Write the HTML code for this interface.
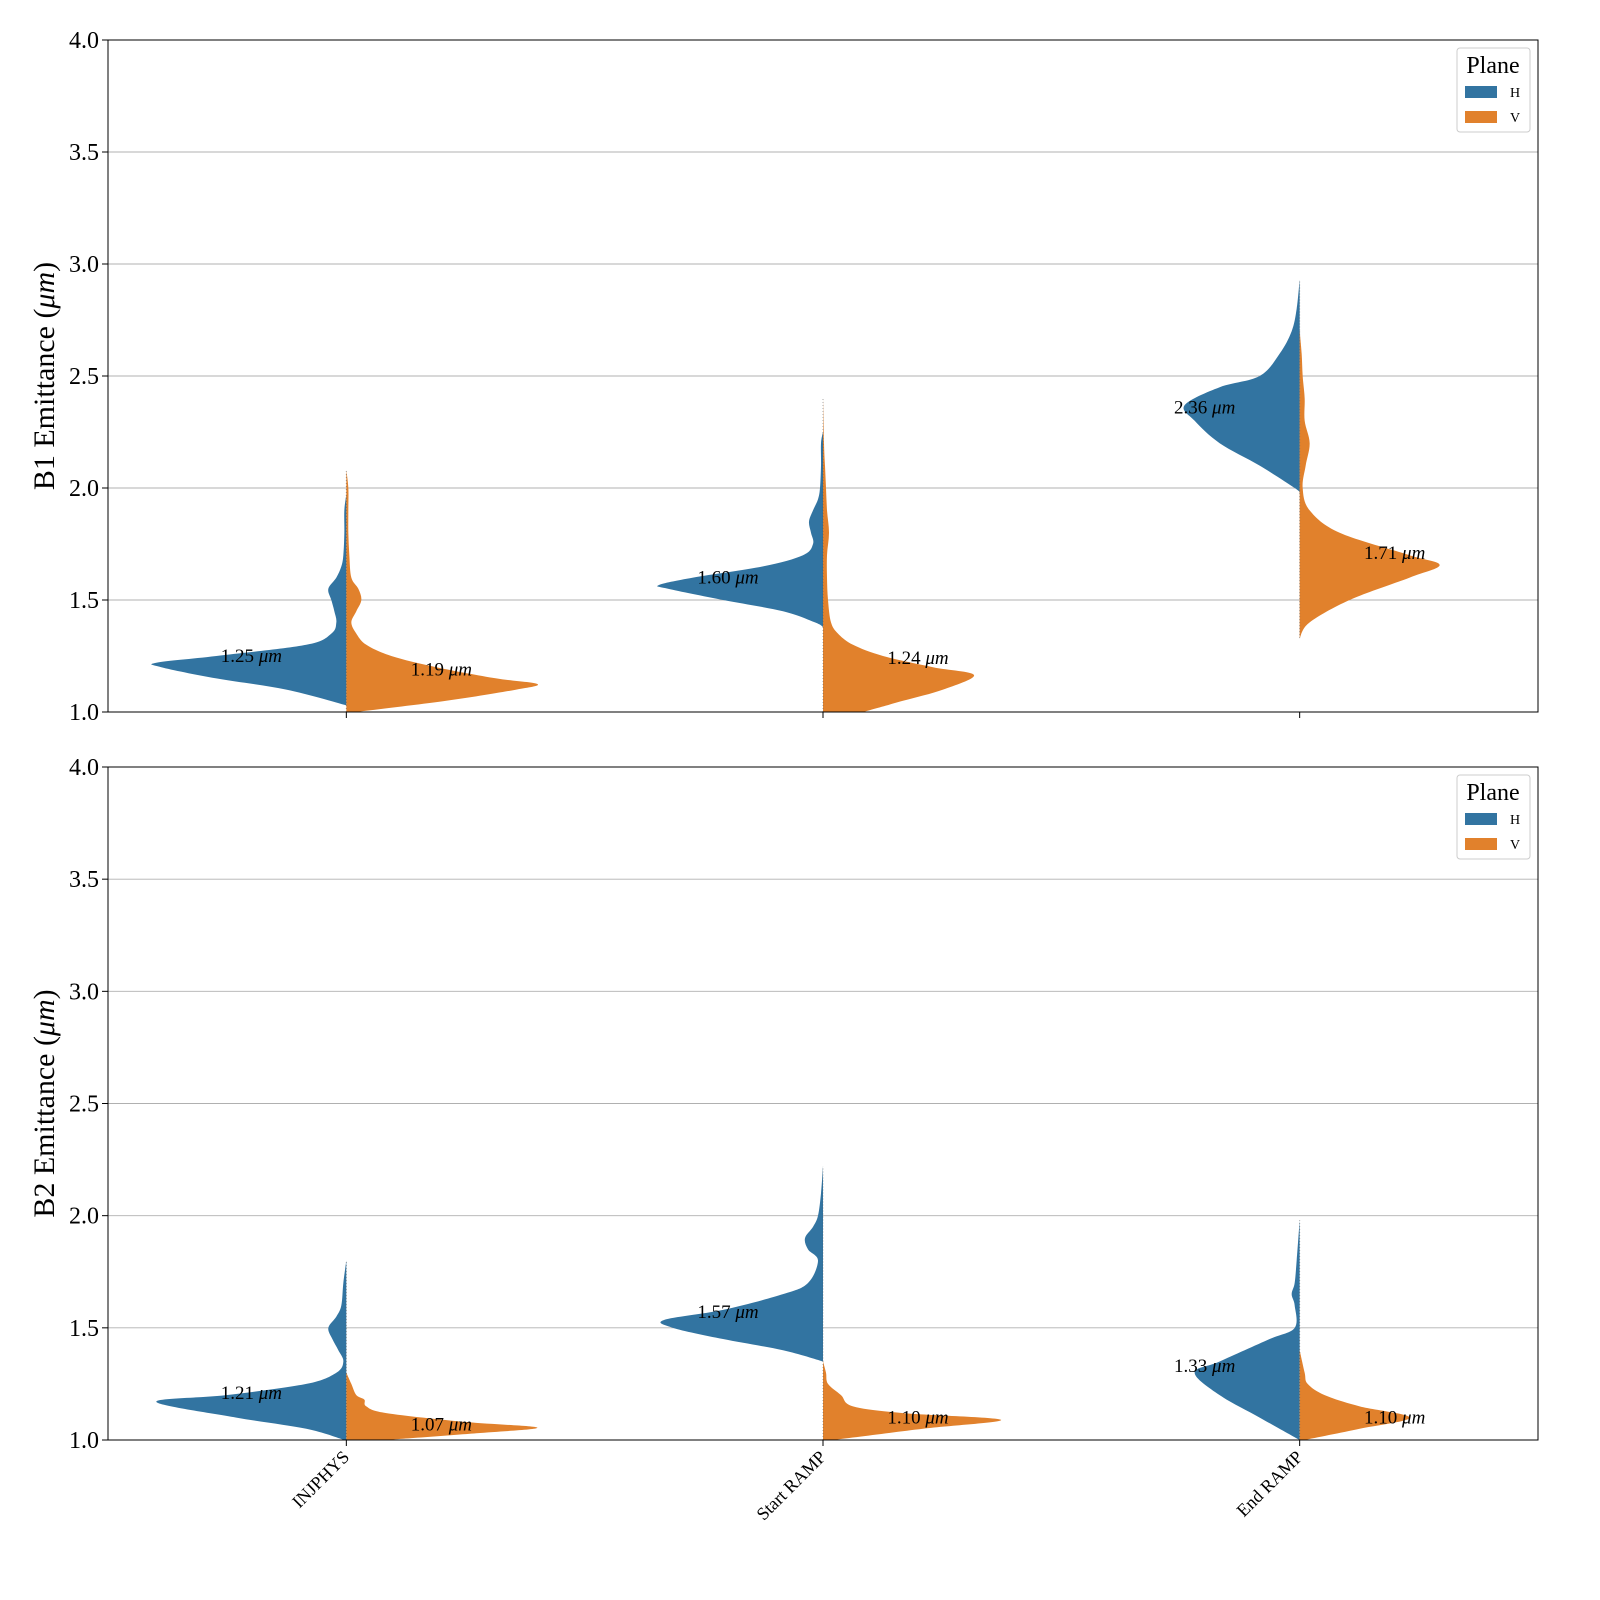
<!DOCTYPE html>
<html><head><meta charset="utf-8"><style>
html,body{margin:0;padding:0;background:#fff;overflow:hidden;width:1600px;height:1600px}
svg{display:block;font-family:"Liberation Serif","DejaVu Serif",serif}
</style></head><body>
<svg id="chart" width="1600" height="1600" viewBox="0 0 1600 1600" xmlns="http://www.w3.org/2000/svg"></svg>
<script>
const categories = ["INJPHYS","Start RAMP","End RAMP"];
const yTicks = [1.0,1.5,2.0,2.5,3.0,3.5,4.0];
const panelLabels = ["B1 Emittance (","B2 Emittance ("];
// medians printed [panel][category][H,V]
const medians = [[[1.25,1.19],[1.60,1.24],[2.36,1.71]],[[1.21,1.07],[1.57,1.10],[1.33,1.10]]];
// density profiles: value grid and density per violin
const b1InjH_y=[1.03,1.1,1.15,1.2,1.22,1.25,1.3,1.35,1.4,1.45,1.5,1.55,1.6,1.65,1.7,1.8,1.9,1.97];
const b1InjH_d=[0,60,130,185,190,130,40,15,10,12,15,18,10,5,3,2,2,0];
const b1InjV_y=[1.0,1.05,1.1,1.125,1.15,1.2,1.25,1.3,1.35,1.4,1.45,1.5,1.55,1.6,1.7,1.8,1.9,2.0,2.08];
const b1InjV_d=[10,100,170,191,150,90,45,20,10,5,10,15,12,5,3,2,2,2,0];
const b1StaH_y=[1.38,1.4,1.45,1.5,1.55,1.567,1.6,1.65,1.7,1.75,1.8,1.85,1.9,1.95,2.0,2.1,2.2,2.25];
const b1StaH_d=[0,8,40,100,155,164,130,60,20,10,12,14,10,5,3,2,2,0];
const b1StaV_y=[1.0,1.05,1.1,1.165,1.2,1.25,1.3,1.35,1.4,1.5,1.6,1.7,1.8,1.9,2.0,2.1,2.2,2.4];
const b1StaV_d=[40,80,120,151,110,60,30,15,8,5,4,4,6,4,3,2,1,0];
const b1EndH_y=[1.98,2.0,2.1,2.2,2.3,2.37,2.45,2.5,2.6,2.7,2.8,2.93];
const b1EndH_d=[0,5,40,80,105,115,80,40,20,8,3,0];
const b1EndV_y=[1.33,1.4,1.5,1.6,1.656,1.7,1.8,1.9,2.0,2.1,2.2,2.3,2.4,2.5,2.6,2.7];
const b1EndV_d=[0,10,50,110,140,110,40,10,3,6,10,5,5,3,2,0];
const b2InjH_y=[1.0,1.05,1.1,1.17,1.2,1.25,1.3,1.35,1.4,1.45,1.5,1.55,1.6,1.7,1.8];
const b2InjH_d=[2,40,110,190,120,40,10,3,8,14,18,10,5,3,0];
const b2InjV_y=[1.0,1.03,1.055,1.08,1.12,1.15,1.18,1.2,1.25,1.3];
const b2InjV_d=[40,130,191,120,40,20,18,10,5,0];
const b2StaH_y=[1.35,1.4,1.45,1.5,1.535,1.58,1.65,1.7,1.8,1.85,1.9,1.95,2.0,2.1,2.22];
const b2StaH_d=[0,40,100,150,159,100,40,15,5,15,18,10,5,2,0];
const b2StaV_y=[1.0,1.05,1.09,1.12,1.15,1.2,1.25,1.3,1.35];
const b2StaV_d=[10,100,178,80,30,18,5,3,0];
const b2EndH_y=[1.0,1.1,1.2,1.3,1.35,1.45,1.5,1.6,1.65,1.7,1.8,1.98];
const b2EndH_d=[0,40,80,105,80,30,5,5,8,5,3,0];
const b2EndV_y=[1.0,1.05,1.1,1.15,1.2,1.25,1.3,1.4];
const b2EndV_d=[5,60,110,60,25,8,5,0];
const violins=[[[b1InjH_y,b1InjH_d,b1InjV_y,b1InjV_d],[b1StaH_y,b1StaH_d,b1StaV_y,b1StaV_d],[b1EndH_y,b1EndH_d,b1EndV_y,b1EndV_d]],
[[b2InjH_y,b2InjH_d,b2InjV_y,b2InjV_d],[b2StaH_y,b2StaH_d,b2StaV_y,b2StaV_d],[b2EndH_y,b2EndH_d,b2EndV_y,b2EndV_d]]];

const NS="http://www.w3.org/2000/svg", svg=document.getElementById('chart');
const X0=108,X1=1538, panels=[{top:40,bot:712},{top:767,bot:1440}];
const colH="#3274a1", colV="#e1812c";
function mk(t,a,p){const e=document.createElementNS(NS,t);for(const k in a)e.setAttribute(k,a[k]);(p||svg).appendChild(e);return e;}
function xPos(i){return X0+(i+0.5)*(X1-X0)/categories.length;}
function densScale(d){return d*1.0;}
function smooth(pts){let s="M"+pts[0][0]+","+pts[0][1];
 for(let i=0;i<pts.length-1;i++){const p0=pts[Math.max(i-1,0)],p1=pts[i],p2=pts[i+1],p3=pts[Math.min(i+2,pts.length-1)];
  const c1=[p1[0]+(p2[0]-p0[0])/6,p1[1]+(p2[1]-p0[1])/6],c2=[p2[0]-(p3[0]-p1[0])/6,p2[1]-(p3[1]-p1[1])/6];
  s+=" C"+c1[0]+","+c1[1]+" "+c2[0]+","+c2[1]+" "+p2[0]+","+p2[1];}
 return s;}
panels.forEach((P,pi)=>{
 const yS=v=>P.bot-(v-1)*(P.bot-P.top)/3;
 const g=mk('g',{});
 
 
 const cid='clip'+pi;
 const cp=mk('clipPath',{id:cid},g);mk('rect',{x:X0,y:P.top,width:X1-X0,height:P.bot-P.top},cp);
 yTicks.forEach(t=>{const y=yS(t);
  const gl=mk('line',{x1:X0,x2:X1,y1:y,y2:y,stroke:"#b0b0b0","stroke-width":0.9},g);
  
  
  mk('line',{x1:X0-6,x2:X0,y1:y,y2:y,stroke:"#000","stroke-width":1},g);
  const tl=mk('text',{x:X0-9,y:y+8,"text-anchor":"end","font-size":24},g);tl.textContent=t.toFixed(1);
  
  
 });
 const vg=mk('g',{"clip-path":"url(#"+cid+")"},g);
 categories.forEach((c,ci)=>{
  const cx=xPos(ci), v=violins[pi][ci];
  [0,1].forEach(side=>{
   const ys=v[side*2], ds=v[side*2+1], sgn=side?1:-1;
   const pts=ys.map((yy,k)=>[cx+sgn*densScale(ds[k]),yS(yy)]);
   const d=smooth(pts)+" L"+cx+","+yS(ys[ys.length-1])+" L"+cx+","+yS(ys[0])+" Z";
   const p=mk('path',{d:d,fill:side?colV:colH,stroke:"none"},vg);
   
   
   mk('line',{x1:cx,x2:cx,y1:yS(ys[0]),y2:yS(ys[ys.length-1]),stroke:"#555","stroke-width":1,"stroke-dasharray":"1,2",opacity:0.5},vg);
   const m=medians[pi][ci][side];
   const t=mk('text',{x:cx+sgn*95,y:yS(m)+6,"text-anchor":"middle","font-size":19},g);
   t.innerHTML=m.toFixed(2)+' <tspan font-style="italic">μm</tspan>';
   
   
  });
  mk('line',{x1:cx,x2:cx,y1:P.bot,y2:P.bot+6,stroke:"#000","stroke-width":1},g);
 });
 mk('rect',{x:X0,y:P.top,width:X1-X0,height:P.bot-P.top,fill:"none",stroke:"#000","stroke-width":1},g);
 const yl=mk('text',{transform:"translate(54,"+((P.top+P.bot)/2)+") rotate(-90)","text-anchor":"middle","font-size":30},g);
 yl.innerHTML=panelLabels[pi]+'<tspan font-style="italic">μm</tspan>)';
 
 
 const lg=mk('g',{},g);
 
 
 mk('rect',{x:1457,y:P.top+8,width:73,height:84,rx:3,fill:"#fff",stroke:"#ccc"},lg);
 const lt=mk('text',{x:1493,y:P.top+33,"text-anchor":"middle","font-size":24},lg);lt.textContent="Plane";
 [["H",colH],["V",colV]].forEach((e,k)=>{
  const yy=P.top+46+k*25;
  mk('rect',{x:1465,y:yy,width:32,height:12,fill:e[1]},lg);
  const et=mk('text',{x:1510,y:yy+11,"font-size":14},lg);et.textContent=e[0];
  
  
 });
});
categories.forEach((c,ci)=>{
 const cx=xPos(ci);
 const t=mk('text',{transform:"translate("+(cx+4)+",1458) rotate(-45)","text-anchor":"end","font-size":18});
 t.textContent=c;
 
 
});
</script>
</body></html>
